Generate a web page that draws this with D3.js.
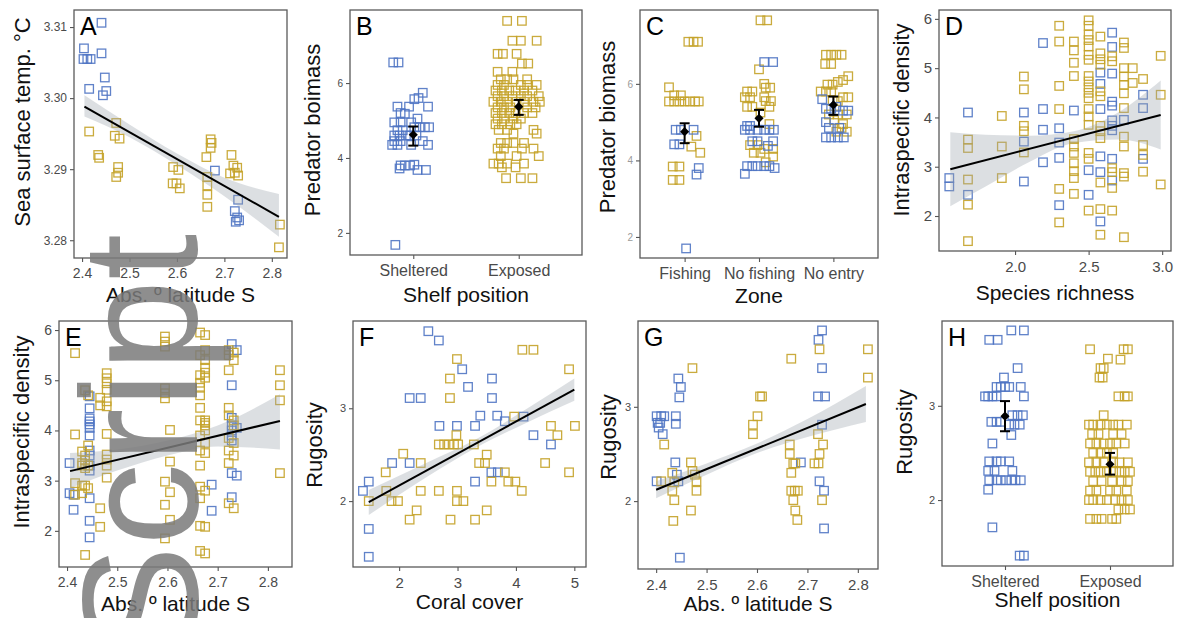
<!DOCTYPE html>
<html>
<head>
<meta charset="utf-8">
<script src="https://cdnjs.cloudflare.com/ajax/libs/d3/7.8.5/d3.min.js"></script>
<style>
body{margin:0;background:#fff;}
svg{display:block;font-family:"Liberation Sans",Arial,sans-serif;}
</style>
</head>
<body>
<svg id="chart" width="1181" height="618"></svg>
<script>
// ---- data ----
// A: latitude vs SST, [lat, sst]
const aBlue = [[2.441,3.3106],[2.404,3.3070],[2.403,3.3055],[2.411,3.3055],[2.418,3.3055],[2.441,3.3063],[2.448,3.3029],[2.415,3.3013],[2.451,3.3010],[2.444,3.3004],[2.680,3.2898],[2.729,3.2857],[2.722,3.2841],[2.727,3.2832],[2.731,3.2828],[2.724,3.2826]];
const aGold = [[2.415,3.2953],[2.472,3.2965],[2.469,3.2947],[2.479,3.2943],[2.434,3.2920],[2.436,3.2916],[2.476,3.2903],[2.476,3.2895],[2.472,3.2889],[2.592,3.2903],[2.603,3.2899],[2.591,3.2880],[2.599,3.2880],[2.606,3.2873],[2.671,3.2942],[2.673,3.2937],[2.671,3.2930],[2.662,3.2917],[2.664,3.2889],[2.664,3.2877],[2.664,3.2864],[2.664,3.2847],[2.715,3.2920],[2.719,3.2905],[2.712,3.2894],[2.727,3.2902],[2.729,3.2891],[2.722,3.2895],[2.817,3.2822],[2.815,3.2790]];
const aFit = [[2.405,3.2988],[2.815,3.2833]];
const aBand = [[2.405,3.2974,3.3004],[2.5,3.2945,3.2963],[2.6,3.2906,3.2922],[2.7,3.2862,3.2888],[2.815,3.2805,3.2865]];
const aXTicks = [2.4,2.5,2.6,2.7,2.8];
const aYTicks = [3.28,3.29,3.30,3.31];

// B: shelf position vs predator biomass, [jitter, value]
const bCats = ["Sheltered","Exposed"];
const bBlue = [[-0.19,6.55],[-0.14,6.55],[0.09,5.74],[0.01,5.57],[0.05,5.6],[-0.15,5.37],[-0.04,5.37],[0.14,5.37],[-0.12,5.2],[-0.08,5.18],[0.04,5.05],[-0.18,4.95],[-0.12,4.95],[-0.02,4.95],[0.01,4.82],[0.06,4.82],[0.11,4.82],[0.15,4.82],[-0.15,4.74],[-0.1,4.74],[-0.18,4.6],[-0.13,4.6],[-0.07,4.6],[-0.03,4.6],[0.03,4.6],[-0.18,4.45],[-0.12,4.45],[0.09,4.45],[-0.2,4.35],[-0.15,4.35],[-0.02,4.35],[0.14,4.35],[-0.12,3.8],[-0.08,3.8],[-0.03,3.8],[0.01,3.82],[-0.13,3.72],[0.04,3.68],[0.12,3.68],[-0.17,1.68]];
const bGold = [[-0.11,7.66],[0.03,7.66],[-0.06,7.13],[0.02,7.13],[0.17,7.13],[-0.2,6.78],[-0.15,6.78],[-0.02,6.78],[0.03,6.52],[0.09,6.52],[-0.2,6.3],[-0.06,6.3],
 [-0.17,6.1],[-0.11,6.1],[-0.05,6.1],[0.08,6.1],[-0.2,5.95],[-0.14,5.95],[0.02,5.95],[0.08,5.95],[0.17,5.95],
 [-0.22,5.8],[-0.16,5.8],[-0.09,5.8],[-0.03,5.8],[0.05,5.8],[0.13,5.8],[-0.2,5.65],[-0.14,5.65],[-0.06,5.65],[0.02,5.65],[0.08,5.65],[0.19,5.65],
 [-0.24,5.5],[-0.17,5.5],[-0.11,5.5],[-0.02,5.5],[0.05,5.5],[0.14,5.5],[0.2,5.5],[-0.2,5.35],[-0.14,5.35],[-0.08,5.35],[0.08,5.35],[0.16,5.35],
 [-0.22,5.2],[-0.16,5.2],[-0.09,5.2],[-0.03,5.2],[0.05,5.2],[0.13,5.2],[-0.2,5.05],[-0.14,5.05],[-0.05,5.05],[0.02,5.05],
 [-0.22,4.9],[-0.16,4.9],[-0.08,4.9],[-0.02,4.9],[-0.19,4.75],[-0.11,4.75],[0.14,4.75],[-0.05,4.65],[0.17,4.65],
 [-0.17,4.4],[-0.11,4.4],[-0.05,4.4],[0.05,4.4],[-0.2,4.25],[-0.14,4.25],[0.03,4.25],[0.14,4.25],[-0.17,4.05],[-0.02,4.05],[0.19,4.05],
 [-0.24,3.85],[-0.19,3.85],[-0.11,3.85],[0.05,3.85],[-0.16,3.75],[-0.03,3.75],[-0.12,3.46],[0.02,3.46],[0.13,3.46]];
const bMeans = [[4.62,4.33,4.84],[5.37,5.15,5.55]]; // mean, low, high
const bYTicks = [2,4,6];

// C: zone vs predator biomass, [zone index, jitter, value]
const cCats = ["Fishing","No fishing","No entry"];
const cGold = [[0,0.05,7.1],[0,0.12,7.1],[0,0.18,7.1],[0,-0.21,5.91],[0,-0.14,5.7],[0,-0.05,5.7],
 [0,-0.21,5.54],[0,-0.14,5.54],[0,-0.07,5.54],[0,0,5.54],[0,0.07,5.54],[0,0.14,5.54],[0,0.19,5.54],
 [0,0.16,4.64],[0,0.09,4.36],[0,0.21,4.2],[0,-0.16,3.84],[0,-0.07,3.84],[0,-0.16,3.49],[0,-0.07,3.49],
 [1,0.02,7.66],[1,0.11,7.66],[1,0,6.38],[1,0.07,6.0],[1,0.09,5.9],[1,0.15,5.9],[1,-0.16,5.8],[1,-0.09,5.8],
 [1,-0.19,5.65],[1,-0.12,5.65],[1,0.07,5.65],[1,0.16,5.55],[1,0.09,5.55],[1,-0.16,5.4],[1,-0.09,5.4],[1,0.14,5.4],
 [1,0.02,5.25],[1,0.14,4.95],[1,-0.12,4.4],[1,-0.02,4.4],[1,0.07,4.3],[1,0.19,4.3],[1,-0.07,4.2],[1,0.02,4.2],[1,0.19,4.1],[1,0.09,3.95],
 [2,-0.1,6.76],[2,-0.03,6.76],[2,0.04,6.76],[2,0.11,6.76],[2,-0.11,6.52],[2,-0.03,6.52],[2,0.2,6.2],[2,0.13,6.1],[2,0.06,6.05],
 [2,-0.01,5.98],[2,-0.08,5.98],[2,-0.17,5.8],[2,-0.1,5.8],[2,-0.03,5.8],[2,0.2,5.65],[2,0.13,5.65],[2,-0.01,5.55],[2,0.06,5.55],
 [2,-0.06,5.2],[2,0.06,5.2],[2,0.18,5.2],[2,0.01,5.05],[2,0.13,4.95],[2,0.11,4.85],[2,0.18,4.75],[2,0.04,4.75]];
const cBlue = [[0,-0.12,4.8],[0,-0.05,4.8],[0,0.12,4.8],[0,-0.14,4.42],[0,-0.07,4.42],[0,0.19,3.8],[0,0.16,3.63],[0,0.02,1.7],
 [1,0.07,6.57],[1,0.19,6.57],[1,-0.16,4.9],[1,-0.12,4.9],[1,-0.19,4.8],[1,-0.12,4.8],[1,-0.02,4.8],[1,0.07,4.8],[1,0.14,4.8],[1,0.2,4.8],
 [1,-0.09,4.5],[1,-0.02,4.5],[1,0.19,4.5],[1,0.12,4.38],[1,-0.16,3.85],[1,-0.09,3.85],[1,-0.02,3.85],[1,0.07,3.85],[1,0.14,3.85],[1,0.21,3.8],[1,-0.19,3.65],
 [2,-0.15,5.6],[2,0.04,5.4],[2,-0.1,5.35],[2,-0.03,5.35],[2,0.13,5.3],[2,0.2,5.3],[2,-0.1,5.0],[2,-0.06,4.85],[2,0.08,4.85],
 [2,-0.1,4.6],[2,-0.03,4.6],[2,0.06,4.6],[2,0.14,4.6]];
const cMeans = [[4.75,4.45,4.97],[5.1,4.88,5.32],[5.45,5.19,5.67]];
const cYTicks = [2,4,6];

// D: species richness vs intraspecific density, columns [richness, [densities]]
const dBlueCols = [[1.553,[2.77,2.60]],[1.68,[4.10,2.43]],[2.06,[4.10,3.51,2.70]],[2.19,[5.51,4.17,3.75,3.09]],[2.30,[3.78,3.49,3.18,2.22]],[2.40,[4.14]],[2.50,[2.93,2.43]],[2.58,[4.91,4.68,4.17,3.21,2.89,1.89]],[2.66,[5.72,5.43,4.89,4.32,4.24,3.94,3.83,3.74,3.16,2.72]],[2.74,[3.95]],[2.87,[4.46,4.19,3.16]]];
const dGoldCols = [[1.68,[3.55,3.38,2.74,2.23,1.49]],[1.91,[4.03,3.41,2.77]],[2.06,[4.83,4.57,3.83,3.72,3.29]],[2.30,[5.86,5.54,4.64,4.17,2.55,1.87]],[2.40,[5.54,5.36,5.11,4.84,3.56,3.41,3.28,3.07,2.91,2.77,2.45]],[2.50,[5.97,5.86,5.68,5.57,5.44,5.27,5.17,4.84,4.73,4.61,4.50,4.39,4.17,4.02,3.85,3.28,3.16,2.11]],[2.58,[5.64,5.30,5.18,5.07,4.53,4.43,3.83,3.72,3.58,2.68,2.14,1.62]],[2.66,[5.24,5.14,2.97,2.89,2.57,2.11]],[2.74,[5.52,5.41,5.00,4.83,4.66,4.49,4.19,3.61,3.41,2.87,2.80,1.57]],[2.80,[5.00,4.70]],[2.87,[4.78,3.44,3.24,2.90]],[2.99,[5.25,4.46,2.64]]];
const dFit = [[1.56,2.95],[2.99,4.05]];
const dBand = [[1.56,2.2,3.7],[1.8,2.6,3.65],[2.1,3.1,3.63],[2.4,3.48,3.72],[2.7,3.55,4.1],[2.99,3.35,4.75]];
const dXTicks = [2.0,2.5,3.0];
const dYTicks = [2,3,4,5,6];

// E: latitude vs intraspecific density
const eBlueCols = [[2.405,[3.35,2.75]],[2.413,[2.72,2.42]],[2.445,[4.68,4.44,4.24,4.18,4.12,4.05,3.9,3.6,3.5,3.3,3.2,2.65,2.2,1.87]],[2.688,[2.92,2.4]],[2.728,[5.72,4.9,4.25,4.1,4.0,3.9,3.8,3.15,2.67]],[2.738,[5.6,4.05,3.1]]];
const eGoldCols = [[2.416,[5.54,3.92,2.95,2.72]],[2.43,[3.58,3.35,3.3,2.9,2.75]],[2.436,[4.8,3.5,3.4,3.25,2.9,1.52]],[2.442,[4.7,3.7,3.3,2.85]],[2.466,[4.65,4.5,2.45,2.08]],[2.479,[5.14,5.04,4.94,4.81,4.58,4.48,3.93,3.52,3.42,3.3,3.06]],[2.595,[5.87,5.77,5.67,4.84,4.74,4.64,2.98,2.52,1.85]],[2.605,[4.01,3.38,2.77,2.22]],[2.665,[5.95,5.5,5.1,4.95,4.85,4.7,4.45,4.2,3.9,3.6,3.3,2.88,2.65,2.1,1.6]],[2.675,[5.9,5.6,5.4,5.25,5.15,5.05,4.2,4.15,4.1,4.0,3.75,3.55,2.8,2.08,1.55]],[2.722,[5.6,5.5,5.2,4.45,4.3,3.85,3.6,3.35,2.55]],[2.732,[5.55,5.4,4.2,4.1,3.75,3.5,2.45]],[2.824,[5.2,4.9,4.6,3.15]]];
const eFit = [[2.406,3.19],[2.824,4.19]];
const eBand = [[2.406,2.85,3.55],[2.5,3.2,3.62],[2.6,3.5,3.8],[2.7,3.68,4.1],[2.824,3.62,4.72]];
const eXTicks = [2.4,2.5,2.6,2.7,2.8];
const eYTicks = [2,3,4,5,6];

// F: coral cover vs rugosity
const fBlue = [[2.50,3.83],[2.68,3.73],[2.18,3.11],[2.37,3.11],[3.08,3.42],[3.18,3.23],[3.59,3.32],[3.59,3.11],[2.69,2.81],[2.99,2.81],[3.30,2.81],[3.39,2.92],[3.68,2.92],[3.81,2.86],[4.13,2.91],[4.30,2.71],[4.60,2.61],[1.38,2.11],[1.48,2.21],[1.88,2.41],[2.18,2.41],[3.30,2.21],[3.58,2.31],[3.69,2.31],[1.48,1.70],[1.48,1.40]];
const fGold = [[4.11,3.63],[4.30,3.63],[2.99,3.53],[2.87,3.32],[2.87,3.11],[4.91,3.42],[3.97,2.91],[2.98,2.71],[2.68,2.61],[2.77,2.61],[2.85,2.61],[2.94,2.61],[3.01,2.61],[3.28,2.61],[2.07,2.51],[2.37,2.41],[1.77,2.31],[3.50,2.50],[3.37,2.41],[3.47,2.41],[4.60,2.81],[4.71,2.71],[5.01,2.81],[4.50,2.41],[4.91,2.31],[3.81,2.31],[3.58,2.21],[3.87,2.21],[3.99,2.21],[4.10,2.11],[1.48,2.00],[1.78,2.11],[1.87,2.00],[1.98,2.00],[2.37,2.11],[2.68,2.11],[2.99,2.11],[2.99,2.00],[3.10,2.00],[2.30,1.90],[2.18,1.80],[2.88,1.80],[3.30,1.80],[3.50,1.90]];
const fFit = [[1.48,1.99],[5.0,3.2]];
const fBand = [[1.48,1.85,2.12],[2.5,2.27,2.42],[3.3,2.57,2.66],[4.2,2.85,3.0],[5.0,3.08,3.32]];
const fXTicks = [2,3,4,5];
const fYTicks = [2,3];

// G: latitude vs rugosity
const gBlue = [[2.401,2.90],[2.41,2.90],[2.416,2.90],[2.403,2.83],[2.408,2.83],[2.405,2.78],[2.413,2.71],[2.401,2.21],[2.439,2.90],[2.439,2.82],[2.444,3.30],[2.449,3.21],[2.446,3.10],[2.438,2.41],[2.441,2.28],[2.444,2.21],[2.447,1.40],[2.687,2.41],[2.729,3.81],[2.722,3.71],[2.729,3.41],[2.721,3.11],[2.735,3.11],[2.729,2.81],[2.724,2.21],[2.733,2.11],[2.733,1.71]];
const gGold = [[2.416,2.60],[2.41,2.21],[2.432,2.30],[2.436,2.20],[2.432,2.11],[2.436,2.01],[2.434,1.79],[2.472,3.41],[2.469,2.41],[2.472,2.32],[2.477,2.28],[2.48,2.21],[2.48,2.11],[2.469,1.90],[2.606,3.11],[2.61,3.11],[2.601,2.90],[2.592,2.81],[2.592,2.71],[2.668,3.51],[2.665,2.60],[2.665,2.50],[2.668,2.30],[2.668,2.11],[2.675,2.11],[2.681,2.11],[2.672,2.01],[2.676,1.90],[2.68,1.80],[2.672,2.40],[2.676,2.40],[2.724,3.61],[2.721,2.71],[2.731,2.60],[2.724,2.50],[2.714,2.40],[2.722,2.40],[2.729,2.01],[2.82,3.61],[2.82,3.31]];
const gFit = [[2.4,2.12],[2.816,3.03]];
const gBand = [[2.4,2.03,2.21],[2.5,2.28,2.4],[2.6,2.51,2.61],[2.7,2.68,2.87],[2.816,2.84,3.22]];
const gXTicks = [2.4,2.5,2.6,2.7,2.8];
const gYTicks = [2,3];

// H: shelf position vs rugosity, [jitter, value]
const hCats = ["Sheltered","Exposed"];
const hBlue = [[0.06,3.8],[0.18,3.8],[-0.15,3.7],[-0.07,3.7],[0.12,3.4],[-0.01,3.3],[-0.08,3.2],[-0.04,3.2],[0,3.2],[0.04,3.2],[0.15,3.2],
 [-0.19,3.1],[-0.16,3.1],[-0.12,3.1],[-0.08,3.1],[0.18,3.1],[0.07,2.9],[0.12,2.9],[0.17,2.9],[-0.13,2.83],[-0.08,2.83],[-0.04,2.83],
 [0.04,2.8],[0.09,2.8],[0.14,2.8],[0.06,2.69],[-0.12,2.6],[-0.15,2.41],[-0.08,2.41],[-0.04,2.41],[0.04,2.41],[-0.16,2.31],[-0.1,2.31],[0.07,2.31],
 [-0.15,2.21],[-0.08,2.21],[-0.04,2.21],[0.01,2.21],[0.06,2.21],[0.1,2.21],[0.15,2.21],[-0.16,2.11],[-0.12,1.71],[0.14,1.41],[0.18,1.41]];
const hGold = [[-0.19,3.6],[0.13,3.6],[0.17,3.6],[-0.02,3.5],[0.1,3.49],[-0.09,3.4],[-0.06,3.4],[-0.1,3.3],[-0.07,3.3],[0.08,3.1],[0.14,3.1],[0.17,3.1],[-0.06,2.9],
 [-0.2,2.8],[-0.16,2.8],[-0.09,2.8],[-0.03,2.8],[0.03,2.8],[0.08,2.8],[0.16,2.8],[-0.17,2.7],[-0.11,2.7],[0.03,2.7],[0.11,2.7],
 [-0.19,2.6],[-0.13,2.6],[-0.06,2.6],[0,2.6],[0.06,2.6],[0.14,2.6],[-0.16,2.5],[-0.09,2.5],[-0.03,2.5],[0.03,2.5],
 [-0.2,2.4],[-0.13,2.4],[-0.06,2.4],[0.03,2.4],[0.09,2.4],[0.17,2.4],[-0.19,2.3],[-0.14,2.3],[-0.09,2.3],[-0.03,2.3],[0.03,2.3],[0.09,2.3],[0.14,2.3],[0.19,2.3],
 [-0.16,2.2],[-0.08,2.2],[0.02,2.2],[0.11,2.2],[0.17,2.2],[-0.19,2.1],[-0.13,2.1],[0,2.1],[0.06,2.1],[0.16,2.1],
 [-0.2,2.0],[-0.16,2.0],[-0.09,2.0],[-0.03,2.0],[0.05,2.0],[0.11,2.0],[0.17,2.0],[0.08,1.9],[0.14,1.9],[0.19,1.9],
 [-0.19,1.8],[-0.13,1.8],[-0.08,1.8],[0.02,1.8],[0.06,1.8]];
const hMeans = [[2.89,2.73,3.05],[2.38,2.27,2.5]];
const hYTicks = [2,3];

const watermark = "Script";

// ---- drawing ----
const BLUE = "#4f74c3", GOLD = "#c4a228";
const svg = d3.select("#chart");
const flat = cols => cols.flatMap(c => c[1].map(v => [c[0], v]));

const panels = [
  {id:"A", x0:74, x1:287, y0:10, y1:258, xd:[2.383,2.832], yd:[3.2775,3.3124], xt:aXTicks, yt:aYTicks, xf:".1f", yf:".2f", xfs:14, yfs:12,
   xTitle:"Abs. º latitude S", yTitle:"Sea surface temp. °C", ytx:30, yty:122, xty:302,
   series:[[aBlue,BLUE],[aGold,GOLD]], fit:aFit, band:aBand},
  {id:"B", x0:350, x1:582, y0:10, y1:255, cats:bCats, yd:[1.41,7.95], yt:bYTicks, yf:"d", xfs:16, yfs:10,
   xTitle:"Shelf position", yTitle:"Predator boimass", ytx:320, yty:130, xty:302,
   groups:[[bBlue.map(d=>[0,d[0],d[1]]),BLUE],[bGold.map(d=>[1,d[0],d[1]]),GOLD]], means:bMeans},
  {id:"C", x0:640, x1:878, y0:10, y1:258, cats:cCats, yd:[1.45,7.93], yt:cYTicks, yf:"d", xfs:16, yfs:10, ytc:"#9a9a9a",
   xTitle:"Zone", yTitle:"Predator biomass", ytx:615, yty:127, xty:303,
   groups:[[cGold,GOLD],[cBlue,BLUE]], means:cMeans},
  {id:"D", x0:939, x1:1171, y0:10, y1:251, xd:[1.483,3.06], yd:[1.29,6.18], xt:dXTicks, yt:dYTicks, xf:".1f", yf:"d", xfs:15, yfs:15,
   xTitle:"Species richness", yTitle:"Intraspecific density", ytx:909, yty:120, xty:300,
   series:[[flat(dBlueCols),BLUE],[flat(dGoldCols),GOLD]], fit:dFit, band:dBand},
  {id:"E", x0:59, x1:292, y0:321, y1:567, xd:[2.384,2.848], yd:[1.28,6.18], xt:eXTicks, yt:eYTicks, xf:".1f", yf:"d", xfs:14, yfs:14,
   xTitle:"Abs. º latitude S", yTitle:"Intraspecific density", ytx:29, yty:432, xty:611,
   series:[[flat(eBlueCols),BLUE],[flat(eGoldCols),GOLD]], fit:eFit, band:eBand},
  {id:"F", x0:353, x1:586, y0:321, y1:567, xd:[1.21,5.2], yd:[1.29,3.94], xt:fXTicks, yt:fYTicks, xf:"d", yf:"d", xfs:15, yfs:11,
   xTitle:"Coral cover", yTitle:"Rugosity", ytx:322, yty:445, xty:609,
   series:[[fBlue,BLUE],[fGold,GOLD]], fit:fFit, band:fBand},
  {id:"G", x0:638, x1:878, y0:321, y1:569, xd:[2.364,2.84], yd:[1.28,3.91], xt:gXTicks, yt:gYTicks, xf:".1f", yf:"d", xfs:15, yfs:11,
   xTitle:"Abs. º latitude S", yTitle:"Rugosity", ytx:616, yty:437, xty:611,
   series:[[gBlue,BLUE],[gGold,GOLD]], fit:gFit, band:gBand},
  {id:"H", x0:942, x1:1173, y0:321, y1:566, cats:hCats, yd:[1.30,3.90], yt:hYTicks, yf:"d", xfs:16, yfs:11,
   xTitle:"Shelf position", yTitle:"Rugosity", ytx:912, yty:432, xty:607,
   groups:[[hBlue.map(d=>[0,d[0],d[1]]),BLUE],[hGold.map(d=>[1,d[0],d[1]]),GOLD]], means:hMeans}
];

const SQ = 8.5;

function styleAxis(sel, size, color){
  sel.select(".domain").remove();
  sel.selectAll(".tick line").attr("stroke","#555").attr("stroke-width",1.1);
  sel.selectAll(".tick text").attr("fill", color || "#4a4a4a").attr("font-size", size)
     .attr("font-family","'Liberation Sans',Arial,sans-serif");
}

panels.forEach(p => {
  const g = svg.append("g");
  const x = p.cats
    ? d3.scalePoint().domain(p.cats).range([p.x0,p.x1]).padding(0.6)
    : d3.scaleLinear().domain(p.xd).range([p.x0,p.x1]);
  const y = d3.scaleLinear().domain(p.yd).range([p.y1,p.y0]);

  const xa = d3.axisBottom(x).tickSize(4).tickPadding(6).tickSizeOuter(0);
  if (!p.cats) xa.tickValues(p.xt).tickFormat(d3.format(p.xf));
  g.append("g").attr("transform",`translate(0,${p.y1})`).call(xa).call(styleAxis, p.xfs);
  const ya = d3.axisLeft(y).tickValues(p.yt).tickFormat(d3.format(p.yf)).tickSize(4).tickPadding(3).tickSizeOuter(0);
  g.append("g").attr("transform",`translate(${p.x0},0)`).call(ya).call(styleAxis, p.yfs, p.ytc);

  const sq = (sel, color) => sel.attr("width",SQ).attr("height",SQ)
     .attr("fill","none").attr("stroke",color).attr("stroke-width",1.3).attr("stroke-opacity",0.9);

  if (p.series) {
    p.series.forEach(([pts,color]) => {
      g.append("g").selectAll("rect").data(pts).join("rect")
        .attr("x", d => x(d[0]) - SQ/2).attr("y", d => y(d[1]) - SQ/2).call(sq, color);
    });
    g.append("path").datum(p.band)
      .attr("d", d3.area().x(d=>x(d[0])).y0(d=>y(d[1])).y1(d=>y(d[2])).curve(d3.curveMonotoneX))
      .attr("fill","#9aa2ad").attr("fill-opacity",0.35);
    g.append("path").datum(p.fit)
      .attr("d", d3.line().x(d=>x(d[0])).y(d=>y(d[1])))
      .attr("stroke","#000").attr("stroke-width",2).attr("fill","none");
  }
  if (p.groups) {
    const step = x.step();
    p.groups.forEach(([pts,color]) => {
      g.append("g").selectAll("rect").data(pts).join("rect")
        .attr("x", d => x(p.cats[d[0]]) + d[1]*step - SQ/2).attr("y", d => y(d[2]) - SQ/2).call(sq, color);
    });
    const m = g.append("g").selectAll("g").data(p.means).join("g")
      .attr("transform",(d,i)=>`translate(${x(p.cats[i])},0)`);
    m.append("line").attr("y1",d=>y(d[1])).attr("y2",d=>y(d[2])).attr("stroke","#000").attr("stroke-width",2);
    m.append("line").attr("x1",-5).attr("x2",5).attr("y1",d=>y(d[1])).attr("y2",d=>y(d[1])).attr("stroke","#000").attr("stroke-width",2);
    m.append("line").attr("x1",-5).attr("x2",5).attr("y1",d=>y(d[2])).attr("y2",d=>y(d[2])).attr("stroke","#000").attr("stroke-width",2);
    m.append("path").attr("d", d3.symbol(d3.symbolSquare, 42)())
      .attr("transform", d=>`translate(0,${y(d[0])}) rotate(45)`).attr("fill","#000");
  }

  g.append("rect").attr("x",p.x0).attr("y",p.y0).attr("width",p.x1-p.x0).attr("height",p.y1-p.y0)
    .attr("fill","none").attr("stroke","#5a5a5a").attr("stroke-width",1.3);

  g.append("text").attr("x",p.x0+6).attr("y",p.y0+25).attr("font-size",25).attr("fill","#000").text(p.id);
  g.append("text").attr("x",(p.x0+p.x1)/2).attr("y",p.xty).attr("text-anchor","middle")
    .attr("font-size",21).attr("fill","#111").text(p.xTitle);
  g.append("text").attr("transform",`translate(${p.ytx},${p.yty}) rotate(-90)`).attr("text-anchor","middle")
    .attr("font-size",22).attr("fill","#111").text(p.yTitle);
});

// grey overlay word running up the left column
svg.append("text").attr("transform","translate(197,234) rotate(-90)").attr("text-anchor","end")
  .attr("font-size",165).attr("fill","#7a7a7a").attr("fill-opacity",0.85).text(watermark);
</script>
</body>
</html>
